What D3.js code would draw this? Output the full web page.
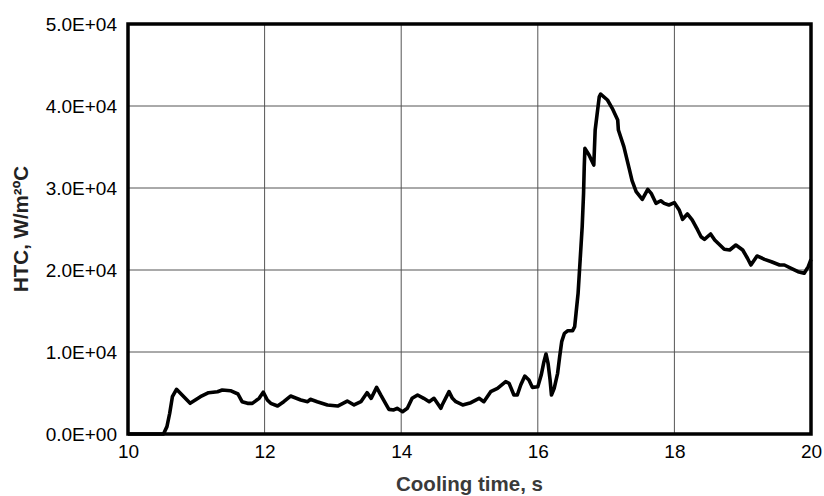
<!DOCTYPE html>
<html>
<head>
<meta charset="utf-8">
<script src="https://cdn.jsdelivr.net/npm/d3@7"></script>
<style>
  body { margin: 0; background: #fff; }
  svg { display: block; font-family: "Liberation Sans", Arial, sans-serif; }
</style>
</head>
<body>
<div id="chart"></div>
<script>
// cooling time (s) and heat transfer coefficient
var time = [10.00, 10.52, 10.57, 10.61, 10.65, 10.71, 10.91, 11.06, 11.18, 11.31, 11.38, 11.50, 11.61, 11.67,
  11.75, 11.82, 11.92, 11.98, 12.04, 12.09, 12.19, 12.28, 12.38, 12.53, 12.63, 12.67, 12.77, 12.92,
  13.07, 13.21, 13.31, 13.41, 13.50, 13.56, 13.64, 13.70, 13.77, 13.82, 13.89, 13.94, 14.02, 14.09,
  14.16, 14.24, 14.33, 14.41, 14.48, 14.58, 14.60, 14.70, 14.75, 14.80, 14.90, 15.02, 15.14, 15.21,
  15.31, 15.41, 15.53, 15.58, 15.65, 15.70, 15.75, 15.81, 15.87, 15.92, 16.00, 16.05, 16.09, 16.12,
  16.15, 16.18, 16.20, 16.24, 16.29, 16.32, 16.35, 16.39, 16.44, 16.51, 16.54, 16.56, 16.59, 16.62,
  16.65, 16.67, 16.68, 16.69, 16.75, 16.82, 16.84, 16.87, 16.90, 16.92, 17.02, 17.09, 17.17, 17.18,
  17.26, 17.34, 17.38, 17.44, 17.53, 17.61, 17.66, 17.73, 17.80, 17.85, 17.92, 18.00, 18.07, 18.12,
  18.19, 18.26, 18.34, 18.39, 18.44, 18.53, 18.59, 18.73, 18.81, 18.90, 19.00, 19.07, 19.12, 19.21,
  19.32, 19.42, 19.54, 19.61, 19.71, 19.81, 19.90, 19.96, 20.00];
var htc = [0, 0, 900, 2500, 4550, 5450, 3740, 4550, 5040, 5160, 5370, 5280, 4880, 3940,
  3740, 3740, 4350, 5100, 4150, 3740, 3410, 3940, 4630, 4150, 3940, 4230, 3940, 3540,
  3410, 4020, 3540, 3940, 5040, 4350, 5690, 4760, 3740, 3000, 2930, 3130, 2720, 3130,
  4350, 4760, 4350, 3940, 4350, 3130, 3540, 5160, 4350, 3940, 3540, 3820, 4350, 3940,
  5160, 5570, 6380, 6180, 4760, 4760, 5980, 7070, 6590, 5690, 5770, 7190, 8820, 9760,
  8620, 6590, 4760, 5570, 7400, 9430, 11260, 12280, 12600, 12600, 13090, 14720, 17160, 21220,
  25280, 29350, 32600, 34840, 34020, 32800, 37070, 39110, 41130, 41460, 40730, 39720, 38290, 37070,
  35040, 32300, 30900, 29550, 28620, 29840, 29350, 28130, 28450, 28130, 27930, 28210, 27320, 26180,
  26830, 26100, 24880, 24060, 23740, 24390, 23660, 22520, 22440, 23050, 22440, 21430, 20610, 21710,
  21300, 21010, 20610, 20610, 20210, 19800, 19600, 20400, 21300];

var xTicks = [10, 12, 14, 16, 18, 20];
var yTicks = [0, 10000, 20000, 30000, 40000, 50000];
var yTickLabels = ["0.0E+00", "1.0E+04", "2.0E+04", "3.0E+04", "4.0E+04", "5.0E+04"];

var width = 824, height = 496;
var margin = { top: 24, right: 13, bottom: 62, left: 128 };
var w = width - margin.left - margin.right;
var h = height - margin.top - margin.bottom;

var svg = d3.select('#chart').append('svg')
    .attr('width', width)
    .attr('height', height);
var g = svg.append('g').attr('transform', 'translate(' + margin.left + ',' + margin.top + ')');

var x = d3.scaleLinear().domain([10, 20]).range([0, w]);
var y = d3.scaleLinear().domain([0, 50000]).range([h, 0]);

// grid
g.append('g').selectAll('line').data(xTicks.slice(1, -1)).enter().append('line')
    .attr('x1', function(d) { return x(d); }).attr('x2', function(d) { return x(d); })
    .attr('y1', 0).attr('y2', h)
    .style('stroke', '#555').style('stroke-width', 1);
g.append('g').selectAll('line').data(yTicks.slice(1, -1)).enter().append('line')
    .attr('x1', 0).attr('x2', w)
    .attr('y1', function(d) { return y(d); }).attr('y2', function(d) { return y(d); })
    .style('stroke', '#555').style('stroke-width', 1);

// axes (labels only, the frame is drawn below)
var xAxis = g.append('g').attr('transform', 'translate(0,' + h + ')')
    .call(d3.axisBottom(x).tickValues(xTicks).tickSize(0).tickPadding(11));
var yAxis = g.append('g')
    .call(d3.axisLeft(y).tickValues(yTicks).tickSize(0).tickPadding(11)
        .tickFormat(function(d, i) { return yTickLabels[i]; }));
[xAxis, yAxis].forEach(function(a) {
    a.select('.domain').remove();
    a.selectAll('text').style('font-size', '19px').style('fill', '#000')
        .style('font-family', '"Liberation Sans", Arial, sans-serif');
});

// curve
var line = d3.line()
    .x(function(d, i) { return x(time[i]); })
    .y(function(d) { return y(d); });
g.append('path').datum(htc)
    .attr('d', line)
    .style('fill', 'none')
    .style('stroke', '#000')
    .style('stroke-width', 3.6)
    .style('stroke-linejoin', 'round');

// frame
g.append('rect').attr('x', 0).attr('y', 0).attr('width', w).attr('height', h)
    .style('fill', 'none').style('stroke', '#000').style('stroke-width', 3.5);

// titles
svg.append('text')
    .attr('x', margin.left + w / 2).attr('y', 491)
    .attr('text-anchor', 'middle')
    .style('font-size', '20.5px').style('font-weight', 'bold').style('fill', '#3a3a3a')
    .text('Cooling time, s');
svg.append('text')
    .attr('transform', 'translate(28,' + (margin.top + h / 2) + ') rotate(-90)')
    .attr('text-anchor', 'middle')
    .style('font-size', '20.5px').style('font-weight', 'bold').style('fill', '#222')
    .text('HTC, W/m²ºC');
</script>
</body>
</html>
